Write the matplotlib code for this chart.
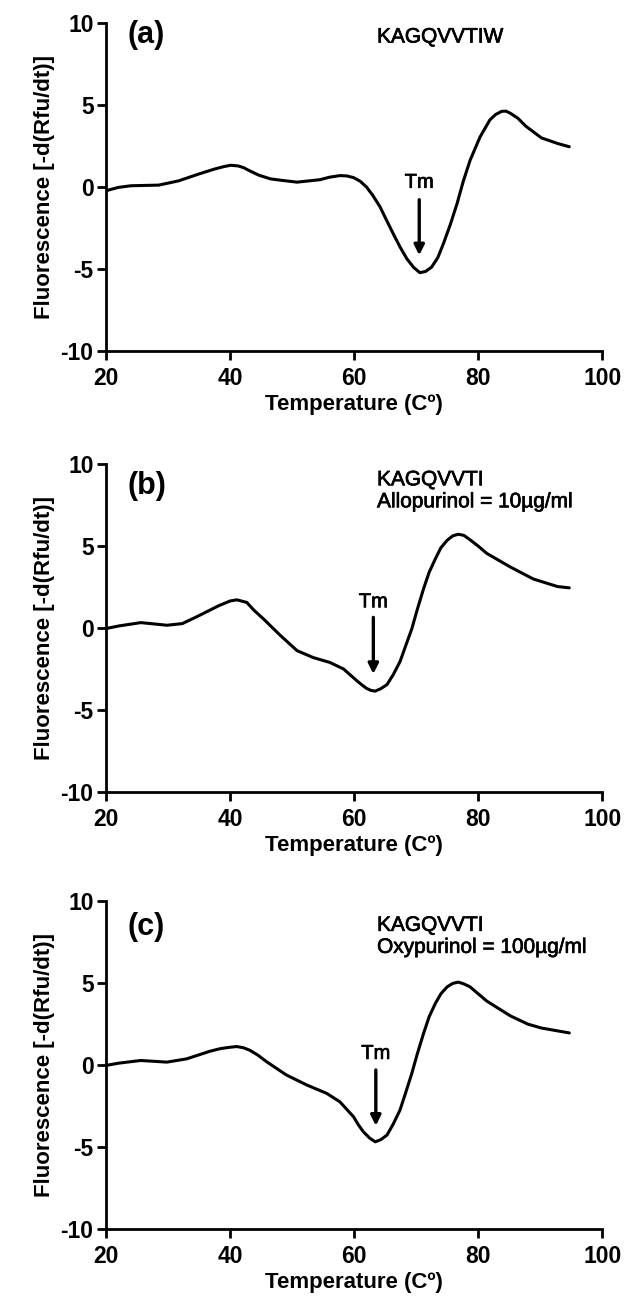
import matplotlib
matplotlib.use("Agg")
import matplotlib.pyplot as plt
import matplotlib.patheffects as pe

plt.rcParams['font.family'] = ['Liberation Sans', 'DejaVu Sans']
plt.rcParams['axes.unicode_minus'] = False

# panel (a) KAGQVVTIW
temp_a = [20, 22, 24, 28.5, 31.7, 34.9, 37.5, 39.0, 40.1, 41.3, 42.2, 43.0, 44.6, 46.5, 48.1, 50.8,
          54.5, 56.0, 57.7, 58.8, 59.9, 61.0, 62.0, 63.0, 64.2, 65.2, 66.3, 67.4, 68.5, 69.6,
          70.6, 71.5, 72.5, 73.5, 74.4, 75.5, 76.6, 77.6, 78.7, 80.3, 81.9, 82.8, 83.8, 84.5,
          85.2, 86.4, 87.7, 90.2, 92.8, 94.7]
fluo_a = [-0.22, -0.02, 0.08, 0.12, 0.38, 0.79, 1.10, 1.25, 1.33, 1.29, 1.18, 1.02, 0.73, 0.50, 0.42, 0.30,
          0.45, 0.60, 0.70, 0.68, 0.58, 0.35, 0.0, -0.50, -1.22, -2.00, -2.84, -3.65, -4.37, -4.90,
          -5.22, -5.15, -4.88, -4.30, -3.45, -2.30, -1.01, 0.35, 1.63, 3.05, 4.10, 4.42, 4.62, 4.63,
          4.50, 4.20, 3.71, 3.0, 2.66, 2.46]

# panel (b) KAGQVVTI + allopurinol
temp_b = [20, 22.1, 25.6, 27.2, 29.8, 32.3, 34.9, 38.1, 40.0, 41.1, 42.7, 43.8, 45.4, 48.1, 50.8,
          53.4, 56.1, 58.3, 60.4, 61.2, 62.0, 62.7, 63.4, 64.3, 65.3, 66.3, 67.4, 68.3, 69.3,
          70.2, 71.2, 72.1, 73.1, 74.0, 75.0, 75.9, 76.8, 77.7, 78.7, 80.0, 81.4, 85.2, 88.9,
          92.8, 94.7]
fluo_b = [-0.03, 0.13, 0.33, 0.27, 0.17, 0.27, 0.74, 1.35, 1.65, 1.72, 1.56, 1.10, 0.55, -0.45, -1.38,
          -1.80, -2.10, -2.50, -3.20, -3.45, -3.68, -3.80, -3.85, -3.70, -3.45, -2.85, -2.05, -1.10, -0.05,
          1.15, 2.40, 3.40, 4.22, 4.90, 5.35, 5.62, 5.72, 5.65, 5.38, 5.00, 4.55, 3.72, 2.99,
          2.53, 2.45]

# panel (c) KAGQVVTI + oxypurinol
temp_c = [20, 22.1, 25.6, 29.8, 33.0, 36.8, 38.4, 39.8, 41.1, 42.2, 43.2, 44.5, 45.9, 49.1, 52.4,
          55.6, 57.7, 59.9, 60.7, 61.5, 62.5, 63.4, 64.3, 65.3, 66.3, 67.4, 68.3, 69.3, 70.2,
          71.2, 72.1, 73.1, 74.0, 75.0, 75.9, 76.8, 77.7, 78.7, 80.0, 81.4, 85.2, 88.0, 90.2,
          94.7]
fluo_c = [-0.02, 0.12, 0.28, 0.18, 0.38, 0.85, 1.00, 1.08, 1.13, 1.05, 0.90, 0.60, 0.20, -0.61, -1.22,
          -1.73, -2.24, -3.15, -3.65, -4.07, -4.45, -4.68, -4.55, -4.27, -3.60, -2.74, -1.70, -0.51, 0.70,
          1.93, 2.95, 3.76, 4.35, 4.77, 4.98, 5.06, 4.95, 4.77, 4.35, 3.90, 3.00, 2.50, 2.26,
          1.96]

tags = ["(a)", "(b)", "(c)"]
notes = ["KAGQVVTIW", "KAGQVVTI\nAllopurinol = 10µg/ml", "KAGQVVTI\nOxypurinol = 100µg/ml"]
series = [(temp_a, fluo_a), (temp_b, fluo_b), (temp_c, fluo_c)]
tm_x = [70.5, 63.1, 63.5]
tm_label_y = [0.29, 1.6, 0.71]
arrow_from = [-0.77, 0.65, -0.30]
arrow_to = [-4.16, -2.8, -3.70]
tag_y = [9.25, 8.67, 8.43]
note_y = [9.15, 8.37, 7.85]
bottoms = [0.731, 0.3931, 0.0582]

fig = plt.figure(figsize=(6.24, 13.05), dpi=100)
heavy = [pe.withStroke(linewidth=0.5, foreground='black')]

for i in range(3):
    ax = fig.add_axes([0.170, bottoms[i], 0.795, 0.2513])
    t, f = series[i]
    ax.plot(t, f, color='black', lw=2.2, solid_joinstyle='round', solid_capstyle='round')
    ax.set_xlim(20, 100)
    ax.set_ylim(-10, 10)
    ax.set_xticks([20, 40, 60, 80, 100])
    ax.set_yticks([-10, -5, 0, 5, 10])
    for s in ['top', 'right']:
        ax.spines[s].set_visible(False)
    for s in ['left', 'bottom']:
        ax.spines[s].set_linewidth(2)
    ax.tick_params(width=2, length=6.5, labelsize=16.5, direction='out')
    ax.tick_params(axis='y', pad=2.5)
    ax.tick_params(axis='x', pad=5)
    for lab in ax.get_xticklabels() + ax.get_yticklabels():
        lab.set_fontweight('bold')
    ax.set_xlabel("Temperature (Cº)", fontsize=16, fontweight='bold', labelpad=3)
    ax.set_ylabel("Fluorescence [-d(Rfu/dt)]", fontsize=16, fontweight='bold', labelpad=4)

    ax.text(23.4, tag_y[i], tags[i], fontsize=22, fontweight='bold', va='center', ha='left')
    ax.text(63.7, note_y[i], notes[i], fontsize=15, va='center', ha='left', linespacing=1.2,
            path_effects=heavy)
    ax.text(tm_x[i], tm_label_y[i], "Tm", fontsize=14.5, ha='center', va='center',
            path_effects=heavy)
    ax.annotate("", xy=(tm_x[i], arrow_to[i]), xytext=(tm_x[i], arrow_from[i]),
                arrowprops=dict(arrowstyle='-|>,head_length=0.6,head_width=0.3',
                                color='black', lw=2.4, shrinkA=0, shrinkB=0))

fig.savefig("out.png", dpi=100)
